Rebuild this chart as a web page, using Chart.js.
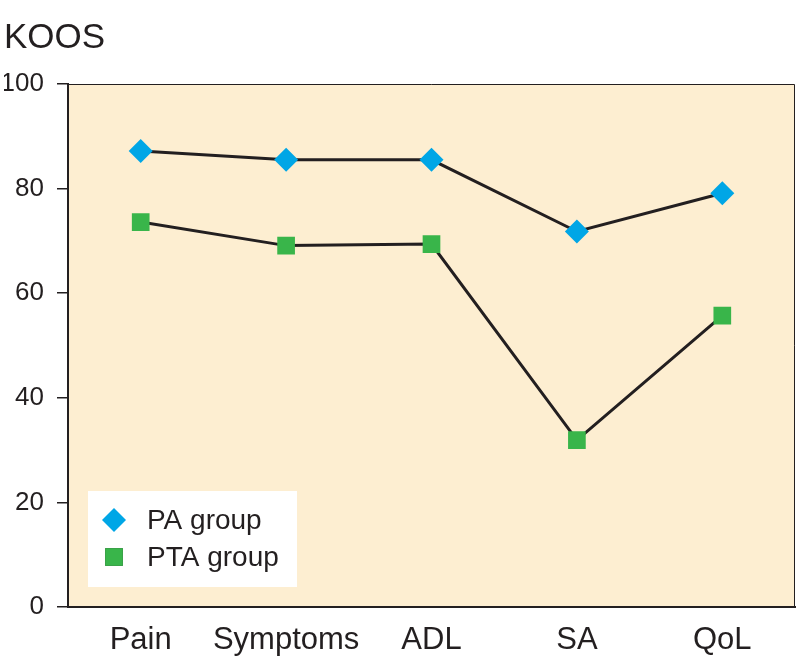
<!DOCTYPE html>
<html>
<head>
<meta charset="utf-8">
<script src="https://cdn.jsdelivr.net/npm/chart.js@4/dist/chart.umd.min.js"></script>
<style>
  html, body { margin: 0; padding: 0; background: #ffffff; }
  #wrap { width: 800px; height: 656px; position: relative; }
</style>
</head>
<body>
<div id="wrap"><canvas id="c" width="800" height="656"></canvas></div>
<script>
const categories = ["Pain", "Symptoms", "ADL", "SA", "QoL"];
const paGroup = [87.2, 85.5, 85.5, 71.8, 79.1];
const ptaGroup = [73.6, 69.1, 69.4, 31.9, 55.7];
const yTicks = [0, 20, 40, 60, 80, 100];
const seriesNames = ["PA group", "PTA group"];

const FONT = "'Liberation Sans', Arial, Helvetica, sans-serif";
const INK = "#231f20";
const BG = "#fdeed1";
const BLUE = "#00a6e6";
const GREEN = "#39b54a";

const areaPlugin = {
  id: "areaPlugin",
  beforeDraw(chart) {
    const { ctx, chartArea: a } = chart;
    ctx.save();
    ctx.fillStyle = BG;
    ctx.fillRect(a.left, a.top, a.right - a.left, a.bottom - a.top);
    ctx.strokeStyle = INK;
    ctx.lineWidth = 1;
    ctx.beginPath();
    ctx.moveTo(a.left, a.top + 0.5);
    ctx.lineTo(a.right - 0.5, a.top + 0.5);
    ctx.lineTo(a.right - 0.5, a.bottom);
    ctx.stroke();
    ctx.restore();
  },
  afterDraw(chart) {
    const { ctx, chartArea: a } = chart;
    const x0 = a.left + 20, y1 = a.bottom - 20;
    const w = 209, h = 96;
    const y0 = y1 - h;
    ctx.save();
    ctx.fillStyle = "#ffffff";
    ctx.fillRect(x0, y0, w, h);
    chart.data.datasets.forEach((ds, i) => {
      const cy = y0 + 29 + i * 37;
      const cx = x0 + 26;
      Chart.helpers.drawPoint(ctx, {
        pointStyle: ds.pointStyle, radius: ds.pointRadius, rotation: 0, borderWidth: 0
      }, cx, cy);
      ctx.fillStyle = ds.pointBackgroundColor;
      ctx.fill();
      ctx.fillStyle = INK;
      ctx.font = "28px " + FONT;
      ctx.textBaseline = "middle";
      ctx.textAlign = "left";
      ctx.fillText(ds.label, x0 + 59, cy + 1);
    });
    ctx.restore();
  }
};

new Chart(document.getElementById("c"), {
  type: "line",
  data: {
    labels: categories,
    datasets: [
      {
        label: seriesNames[0], data: paGroup,
        borderColor: INK, borderWidth: 3, tension: 0,
        pointStyle: "rectRot", pointRadius: 12, pointHoverRadius: 12,
        pointBackgroundColor: BLUE, pointBorderWidth: 0, pointBorderColor: BLUE
      },
      {
        label: seriesNames[1], data: ptaGroup,
        borderColor: INK, borderWidth: 3, tension: 0,
        pointStyle: "rect", pointRadius: 12.5, pointHoverRadius: 12.5,
        pointBackgroundColor: GREEN, pointBorderWidth: 0, pointBorderColor: GREEN
      }
    ]
  },
  options: {
    responsive: false,
    animation: false,
    events: [],
    layout: { autoPadding: false, padding: { top: 0, left: 4, right: 5, bottom: 0 } },
    plugins: {
      legend: { display: false },
      tooltip: { enabled: false },
      title: {
        display: true, text: "KOOS", align: "start", color: INK,
        font: { family: FONT, size: 35, weight: "normal" },
        padding: { top: 17, bottom: 25 }
      }
    },
    scales: {
      x: {
        offset: true,
        afterFit(scale) { scale.height = 49; scale.paddingLeft = 0; scale.paddingRight = 0; },
        grid: { display: false, drawTicks: false },
        border: { display: true, color: INK, width: 2 },
        ticks: { color: INK, font: { family: FONT, size: 31 }, padding: 15, maxRotation: 0, autoSkip: false }
      },
      y: {
        min: 0, max: 100,
        afterFit(scale) { scale.width = 64; },
        afterBuildTicks(scale) { scale.ticks = yTicks.map(v => ({ value: v })); },
        grid: { display: true, drawOnChartArea: false, drawTicks: true, tickLength: 11, color: INK, lineWidth: 1.5 },
        border: { display: true, color: INK, width: 2 },
        ticks: { color: INK, font: { family: FONT, size: 26 }, padding: 13 }
      }
    }
  },
  plugins: [areaPlugin]
});
</script>
</body>
</html>
